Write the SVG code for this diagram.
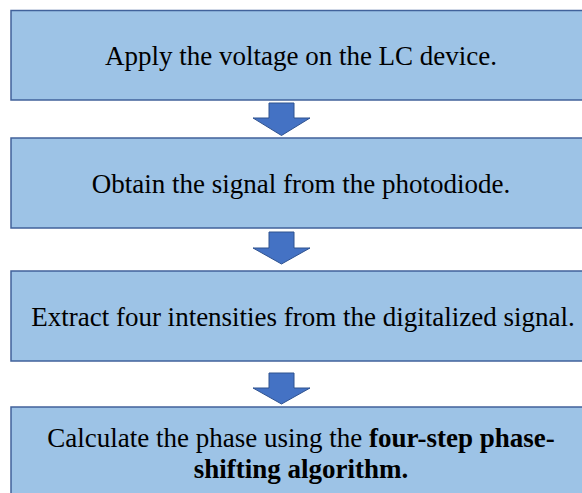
<svg xmlns="http://www.w3.org/2000/svg" width="582" height="493" viewBox="0 0 582 493">
<style>
.box{fill:#9dc3e6;stroke:#41629b;stroke-width:1.5}
.arr{fill:#4472c4;stroke:#2f528f;stroke-width:1}
.t{font-family:"Liberation Serif","Times New Roman",serif;font-size:27px;fill:#000;text-anchor:middle}
.b{font-weight:bold}
</style>
<rect width="582" height="493" fill="#fff"/>
<g id="node1"><rect class="box" x="11" y="10.5" width="582" height="89.5"/><text class="t" x="301" y="65">Apply the voltage on the LC device.</text></g>
<g id="node2"><rect class="box" x="11" y="138" width="582" height="90"/><text class="t" x="301" y="193">Obtain the signal from the photodiode.</text></g>
<g id="node3"><rect class="box" x="11" y="271" width="582" height="90"/><text class="t" x="303" y="326">Extract four intensities from the digitalized signal.</text></g>
<g id="node4"><rect class="box" x="11" y="407" width="582" height="100"/><text class="t" x="301" y="447">Calculate the phase using the <tspan class="b">four-step phase-</tspan></text><text class="t b" x="301" y="478">shifting algorithm.</text></g>
<g id="connectors">
<path class="arr" d="M269,103 H294 V118 H310 L281.5,135.5 L253,118 H269 Z"/>
<path class="arr" d="M269,232 H294 V248 H310 L281.5,264 L253,248 H269 Z"/>
<path class="arr" d="M269,373 H294 V388 H310 L281.5,404 L253,388 H269 Z"/>
</g>
</svg>
